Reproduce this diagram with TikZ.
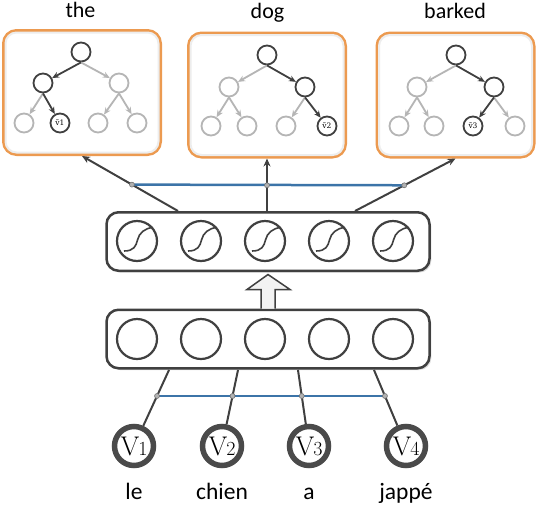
\documentclass[tikz,border=0pt]{standalone}
\usepackage{fontspec}
\newfontfamily\calfont{Carlito}
\newfontfamily\djfont{DejaVu Serif}
\usetikzlibrary{arrows.meta,calc,shadows}
\definecolor{dk}{HTML}{404040}
\definecolor{lt}{HTML}{B5B5B5}
\definecolor{org}{HTML}{EC9A50}
\definecolor{blu}{HTML}{3C74A8}
\begin{document}
\begin{tikzpicture}[x=1pt,y=-1pt,
 tbox/.style={draw=org, line width=3pt, rounded corners=13pt, minimum width=157pt, minimum height=124pt, inner sep=0, fill=white},
 inner/.style={draw=black!7, line width=2pt, rounded corners=11pt},
 lbox/.style={draw=dk, line width=2.5pt, rounded corners=12pt, minimum width=323pt, minimum height=58.5pt, inner sep=0, fill=white,
   drop shadow={shadow xshift=1.8pt, shadow yshift=-1.8pt, fill=black!14, opacity=1}},
 tn/.style={circle, draw=dk, line width=1.8pt, minimum size=19pt, inner sep=0, fill=white},
 tg/.style={tn, draw=lt},
 ea/.style={dk, line width=1.8pt, -{Stealth[length=7pt,width=6pt]}},
 eg/.style={ea, lt},
 unit/.style={circle, draw=dk, line width=2.2pt, minimum size=40pt, inner sep=0},
 vin/.style={circle, draw=dk!95, line width=5.5pt, minimum size=39pt, inner sep=0},
 vt/.style={font=\fontsize{27}{27}\selectfont},
 word/.style={font=\calfont\fontsize{23.5}{24}\selectfont, anchor=base, inner sep=0},
 tword/.style={font=\calfont\fontsize{22}{24}\selectfont, anchor=base, inner sep=0},
 conn/.style={dk, line width=2pt},
 arr/.style={conn, -{Stealth[length=8pt,width=7pt]}},
 pt/.style={circle, fill=black!30, draw=black!55, line width=0.6pt, inner sep=0, minimum size=5pt},
 bl/.style={blu, line width=2.5pt},
 lab/.style={font=\djfont\fontsize{7.5}{8}\selectfont}
]
\useasboundingbox (0,0) rectangle (538,504);

% top boxes
\node[tbox] (box1) at (82,92.5) {};
\node[tbox] (box2) at (267,95) {};
\node[tbox] (box3) at (455.5,95) {};
\foreach \b in {box1,box2,box3}{
  \draw[inner] ($(\b.north west)+(3.5,3.5)$) rectangle ($(\b.south east)+(-3.5,-3.5)$);
}

% tree 1
\node[tn] (r1) at (81,52) {};
\node[tn] (a1) at (43,83) {};
\node[tg] (b1) at (119,83) {};
\node[tg] (l11) at (24,123) {};
\node[tn, lab] (l12) at (60,123) {ṽ1};
\node[tg] (l13) at (98,123) {};
\node[tg] (l14) at (137,123) {};
\draw[eg] (r1.south) -- (b1);
\draw[eg] (a1.south) -- (l11);
\draw[eg] (b1.south) -- (l13);
\draw[eg] (b1.south) -- (l14);
\draw[ea] (r1.south) -- (a1);
\draw[ea] (a1.south) -- (l12);

% tree 2
\node[tn] (r2) at (267,55) {};
\node[tg] (a2) at (229,87) {};
\node[tn] (b2) at (305,87) {};
\node[tg] (l21) at (211,126) {};
\node[tg] (l22) at (247,126) {};
\node[tg] (l23) at (286,126) {};
\node[tn, lab] (l24) at (327,126) {ṽ2};
\draw[eg] (r2.south) -- (a2);
\draw[eg] (a2.south) -- (l21);
\draw[eg] (a2.south) -- (l22);
\draw[eg] (b2.south) -- (l23);
\draw[ea] (r2.south) -- (b2);
\draw[ea] (b2.south) -- (l24);

% tree 3
\node[tn] (r3) at (456,55) {};
\node[tg] (a3) at (417,87) {};
\node[tn] (b3) at (494,87) {};
\node[tg] (l31) at (399,126) {};
\node[tg] (l32) at (434,126) {};
\node[tn, lab] (l33) at (473,126) {ṽ3};
\node[tg] (l34) at (515,126) {};
\draw[eg] (r3.south) -- (a3);
\draw[eg] (a3.south) -- (l31);
\draw[eg] (a3.south) -- (l32);
\draw[eg] (b3.south) -- (l34);
\draw[ea] (r3.south) -- (b3);
\draw[ea] (b3.south) -- (l33);

% top words
\node[tword] (tw1) at (80.5,17) {the};
\node[tword] (tw2) at (267.5,18) {dog};
\node[tword] (tw3) at (455,18) {barked};

% layers
\node[lbox] (sig) at (268,241.5) {};
\node[lbox] (inp) at (268,339) {};
\foreach \i/\x in {1/137,2/201,3/265,4/329,5/393}{
  \node[unit] (s\i) at (\x,241) {};
  \draw[dk, line width=1.6pt] ($(s\i)+(-13,10)$) .. controls ($(s\i)+(-3,10)$) and ($(s\i)+(-1,5)$) .. ($(s\i)+(0.5,-1)$)
     .. controls ($(s\i)+(2,-8)$) and ($(s\i)+(8,-13)$) .. ($(s\i)+(16,-13.5)$);
  \node[unit] (u\i) at (\x,339) {};
}

% hollow arrow
\draw[dk, line width=1.5pt, fill=black!5]
  ($(inp.north)+(-7,0)$) -- ++(0,-19) -- ++(-14,0) -- ($(sig.south)+(0,2.5)$) -- ($(inp.north)+(22,-19)$)
  -- ++(-15,0) -- ($(inp.north)+(7,0)$);

% top connectors
\coordinate (c1) at (178,211);
\coordinate (c2) at (sig.north -| box2.south);
\coordinate (c3) at (355,211);
\draw[arr] (c1) -- (box1.south);
\draw[arr] (c2) -- (box2.south);
\draw[arr] (c3) -- (box3.south);
\coordinate (p1) at ($(c1)!0.48!(box1.south)$);
\coordinate (p2) at ($(c2)!0.49!(box2.south)$);
\coordinate (p3) at ($(c3)!0.49!(box3.south)$);
\draw[bl] (p1) -- (p3);
\foreach \p in {p1,p2,p3}{ \node[pt] at (\p) {}; }

% input words
\node[vin] (v1) at (134,446) {{\fontsize{27}{27}\selectfont V}\kern-1pt{\fontsize{20}{20}\selectfont 1}};
\node[vin] (v2) at (222,446) {{\fontsize{27}{27}\selectfont V}\kern-1pt{\fontsize{20}{20}\selectfont 2}};
\node[vin] (v3) at (309,446) {{\fontsize{27}{27}\selectfont V}\kern-1pt{\fontsize{20}{20}\selectfont 3}};
\node[vin] (v4) at (406,446) {{\fontsize{27}{27}\selectfont V}\kern-1pt{\fontsize{20}{20}\selectfont 4}};
\coordinate (q1) at (169,370);
\coordinate (q2) at (238,370);
\coordinate (q3) at (298,370);
\coordinate (q4) at (374,370);
\foreach \i in {1,2,3,4}{
  \draw[conn] (q\i) -- (v\i);
  \coordinate (m\i) at ($(q\i)!0.342!(v\i)$);
}
\draw[bl] (m1) -- (m4);
\foreach \i in {1,2,3,4}{ \node[pt] at (m\i) {}; }

\node[word] (w1) at (134,499) {le};
\node[word] (w2) at (222,499) {chien};
\node[word] (w3) at (309,499) {a};
\node[word] (w4) at (406,499) {jappé};
\end{tikzpicture}
\end{document}
